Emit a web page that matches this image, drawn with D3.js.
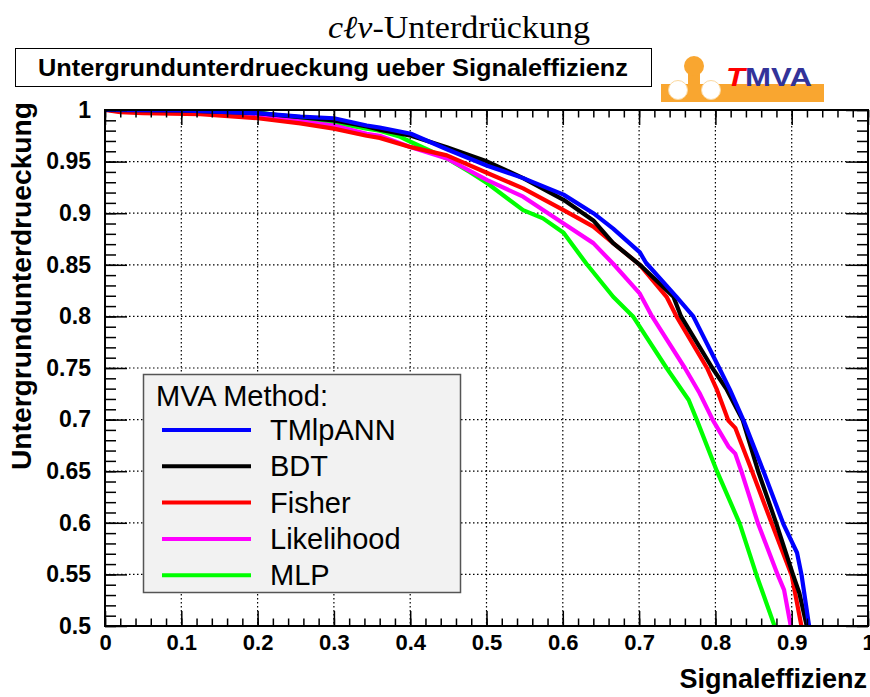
<!DOCTYPE html>
<html>
<head>
<meta charset="utf-8">
<script src="https://cdn.jsdelivr.net/npm/d3@7/dist/d3.min.js"></script>
<style>
  body { margin: 0; background: #fff; }
  svg { display: block; }
  .bold { font-family: "Liberation Sans", Arial, Helvetica, sans-serif; font-weight: bold; }
</style>
</head>
<body>
<svg id="chart" width="870" height="697"></svg>
<script>
// ROC curves: background rejection versus signal efficiency per MVA method
const methods = ["TMlpANN", "BDT", "Fisher", "Likelihood", "MLP"];
const methodColors = ["#0000ff", "#000000", "#ff0000", "#ff00ff", "#00ff00"];

const effTMlpANN = [0.00, 0.10, 0.20, 0.256, 0.30, 0.343, 0.36, 0.401, 0.448, 0.501, 0.548, 0.601, 0.640, 0.666, 0.701, 0.709, 0.749, 0.771, 0.805, 0.819, 0.837, 0.863, 0.889, 0.907, 0.913, 0.923];
const rejTMlpANN = [1.000, 0.9995, 0.997, 0.9935, 0.992, 0.985, 0.983, 0.977, 0.962, 0.946, 0.934, 0.918, 0.900, 0.885, 0.862, 0.852, 0.819, 0.800, 0.750, 0.729, 0.699, 0.650, 0.599, 0.571, 0.549, 0.499];

const effBDT = [0.00, 0.10, 0.20, 0.256, 0.30, 0.343, 0.36, 0.401, 0.448, 0.501, 0.548, 0.601, 0.640, 0.666, 0.701, 0.745, 0.755, 0.796, 0.815, 0.836, 0.856, 0.880, 0.902, 0.910, 0.920];
const rejBDT = [1.000, 0.9995, 0.997, 0.993, 0.990, 0.984, 0.981, 0.975, 0.964, 0.950, 0.934, 0.913, 0.893, 0.871, 0.850, 0.819, 0.800, 0.750, 0.729, 0.699, 0.650, 0.599, 0.549, 0.532, 0.499];

const effFisher = [0.00, 0.02, 0.05, 0.125, 0.20, 0.256, 0.30, 0.343, 0.36, 0.401, 0.448, 0.501, 0.548, 0.601, 0.640, 0.666, 0.701, 0.736, 0.749, 0.789, 0.802, 0.817, 0.826, 0.848, 0.874, 0.900, 0.913];
const rejFisher = [1.000, 0.998, 0.997, 0.996, 0.992, 0.987, 0.982, 0.975, 0.973, 0.964, 0.956, 0.939, 0.924, 0.903, 0.887, 0.871, 0.850, 0.819, 0.800, 0.750, 0.729, 0.699, 0.692, 0.650, 0.599, 0.549, 0.499];

const effLikelihood = [0.00, 0.10, 0.20, 0.256, 0.30, 0.343, 0.36, 0.401, 0.448, 0.501, 0.548, 0.601, 0.640, 0.666, 0.701, 0.717, 0.760, 0.779, 0.797, 0.817, 0.826, 0.834, 0.856, 0.882, 0.890, 0.899];
const rejLikelihood = [1.000, 0.999, 0.9935, 0.989, 0.985, 0.977, 0.975, 0.964, 0.953, 0.932, 0.916, 0.890, 0.871, 0.851, 0.822, 0.800, 0.750, 0.726, 0.699, 0.674, 0.667, 0.650, 0.599, 0.549, 0.535, 0.499];

const effMLP = [0.00, 0.10, 0.20, 0.256, 0.30, 0.343, 0.36, 0.387, 0.401, 0.448, 0.478, 0.501, 0.548, 0.574, 0.601, 0.631, 0.666, 0.692, 0.736, 0.765, 0.776, 0.802, 0.832, 0.854, 0.878];
const rejMLP = [1.000, 1.000, 0.998, 0.991, 0.988, 0.982, 0.980, 0.974, 0.969, 0.953, 0.940, 0.929, 0.903, 0.895, 0.881, 0.851, 0.819, 0.800, 0.750, 0.719, 0.699, 0.650, 0.599, 0.549, 0.499];

const xTickValues = [0, 0.1, 0.2, 0.3, 0.4, 0.5, 0.6, 0.7, 0.8, 0.9, 1];
const xTickLabels = ["0", "0.1", "0.2", "0.3", "0.4", "0.5", "0.6", "0.7", "0.8", "0.9", "1"];
const yTickValues = [0.5, 0.55, 0.6, 0.65, 0.7, 0.75, 0.8, 0.85, 0.9, 0.95, 1];
const yTickLabels = ["0.5", "0.55", "0.6", "0.65", "0.7", "0.75", "0.8", "0.85", "0.9", "0.95", "1"];

const curveData = {
  TMlpANN: d3.zip(effTMlpANN, rejTMlpANN),
  BDT: d3.zip(effBDT, rejBDT),
  Fisher: d3.zip(effFisher, rejFisher),
  Likelihood: d3.zip(effLikelihood, rejLikelihood),
  MLP: d3.zip(effMLP, rejMLP)
};

const svg = d3.select("#chart");
const frame = { left: 105, right: 868, top: 110, bottom: 626 };
const x = d3.scaleLinear().domain([0, 1]).range([frame.left, frame.right]);
const y = d3.scaleLinear().domain([0.5, 1]).range([frame.bottom, frame.top]);

// header: formula title, boxed plot title, logo
const head = svg.append("text")
  .attr("x", 459).attr("y", 38)
  .attr("text-anchor", "middle")
  .style("font-family", "'Liberation Serif', 'DejaVu Serif', serif")
  .style("font-size", "32px")
  .attr("textLength", 262).attr("lengthAdjust", "spacingAndGlyphs");
head.append("tspan").style("font-style", "italic").text("cℓν");
head.append("tspan").text("-Unterdrückung");

svg.append("rect")
  .attr("x", 15.5).attr("y", 48.5).attr("width", 636).attr("height", 38)
  .attr("fill", "#fff").attr("stroke", "#000").attr("stroke-width", 1);
svg.append("text").attr("class", "bold")
  .attr("x", 333).attr("y", 76)
  .attr("text-anchor", "middle")
  .style("font-size", "24px")
  .attr("textLength", 590).attr("lengthAdjust", "spacingAndGlyphs")
  .text("Untergrundunterdrueckung ueber Signaleffizienz");

const logo = svg.append("g");
const orange = "#f9a630";
logo.append("rect").attr("x", 661).attr("y", 84).attr("width", 163).attr("height", 18).attr("fill", orange);
logo.append("rect").attr("x", 688).attr("y", 72).attr("width", 12).attr("height", 16).attr("fill", orange);
logo.append("circle").attr("cx", 694).attr("cy", 66).attr("r", 10).attr("fill", orange);
logo.append("circle").attr("cx", 678).attr("cy", 90).attr("r", 9.5).attr("fill", "#fff").attr("stroke", "#fbd9a0").attr("stroke-width", 1);
logo.append("circle").attr("cx", 711).attr("cy", 90).attr("r", 9.5).attr("fill", "#fff").attr("stroke", "#fbd9a0").attr("stroke-width", 1);
const logoText = logo.append("text").attr("class", "bold")
  .attr("x", 726).attr("y", 86)
  .style("font-size", "25px")
  .attr("textLength", 86).attr("lengthAdjust", "spacingAndGlyphs");
logoText.append("tspan").attr("fill", "#ff0000").style("font-style", "italic").text("T");
logoText.append("tspan").attr("fill", "#333399").text("MVA");

// dotted grid at the major ticks
const grid = svg.append("g")
  .attr("stroke", "#000").attr("stroke-width", 1.2).attr("stroke-dasharray", "1.5 2.5");
grid.selectAll("line.gx").data(xTickValues.slice(1, -1)).join("line")
  .attr("x1", d => x(d)).attr("x2", d => x(d))
  .attr("y1", frame.top).attr("y2", frame.bottom);
grid.selectAll("line.gy").data(yTickValues.slice(1, -1)).join("line")
  .attr("y1", d => y(d)).attr("y2", d => y(d))
  .attr("x1", frame.left).attr("x2", frame.right);

// curves, clipped to the frame
svg.append("clipPath").attr("id", "plotClip").append("rect")
  .attr("x", frame.left).attr("y", frame.top)
  .attr("width", frame.right - frame.left).attr("height", frame.bottom - frame.top);
const line = d3.line().x(d => x(d[0])).y(d => y(d[1]));
const drawOrder = methods.slice().reverse();
svg.append("g").attr("clip-path", "url(#plotClip)")
  .selectAll("path").data(drawOrder).join("path")
  .attr("d", m => line(curveData[m]))
  .attr("fill", "none")
  .attr("stroke", m => methodColors[methods.indexOf(m)])
  .attr("stroke-width", 4.2)
  .attr("stroke-linejoin", "round");

// axes with inward ticks on all four sides
const xMinor = d3.range(0, 1.0001, 0.02);
const yMinor = d3.range(0.5, 1.0001, 0.01);
const noLabel = () => "";

function styleAxis(g) {
  g.select(".domain").remove();
  g.selectAll(".tick line").attr("stroke", "#000").attr("stroke-width", 1.5);
}

svg.append("g").attr("transform", `translate(0,${frame.bottom})`)
  .call(d3.axisBottom(x).tickValues(xMinor).tickSize(-7.5).tickFormat(noLabel)).call(styleAxis);
svg.append("g").attr("transform", `translate(0,${frame.bottom})`)
  .call(d3.axisBottom(x).tickValues(xTickValues).tickSize(-15).tickPadding(20)
    .tickFormat((d, i) => xTickLabels[i]))
  .call(styleAxis)
  .call(g => g.selectAll("text").attr("class", "bold").attr("fill", "#000")
    .style("font-size", "22px").attr("dy", "0.2em"));
svg.append("g").attr("transform", `translate(0,${frame.top})`)
  .call(d3.axisTop(x).tickValues(xMinor).tickSize(-7.5).tickFormat(noLabel)).call(styleAxis);
svg.append("g").attr("transform", `translate(0,${frame.top})`)
  .call(d3.axisTop(x).tickValues(xTickValues).tickSize(-15).tickFormat(noLabel)).call(styleAxis);

svg.append("g").attr("transform", `translate(${frame.left},0)`)
  .call(d3.axisLeft(y).tickValues(yMinor).tickSize(-11).tickFormat(noLabel)).call(styleAxis);
svg.append("g").attr("transform", `translate(${frame.left},0)`)
  .call(d3.axisLeft(y).tickValues(yTickValues).tickSize(-22).tickPadding(14)
    .tickFormat((d, i) => yTickLabels[i]))
  .call(styleAxis)
  .call(g => g.selectAll("text").attr("class", "bold").attr("fill", "#000")
    .style("font-size", "23px"));
svg.append("g").attr("transform", `translate(${frame.right},0)`)
  .call(d3.axisRight(y).tickValues(yMinor).tickSize(-11).tickFormat(noLabel)).call(styleAxis);
svg.append("g").attr("transform", `translate(${frame.right},0)`)
  .call(d3.axisRight(y).tickValues(yTickValues).tickSize(-22).tickFormat(noLabel)).call(styleAxis);

svg.append("rect")
  .attr("x", frame.left).attr("y", frame.top)
  .attr("width", frame.right - frame.left).attr("height", frame.bottom - frame.top)
  .attr("fill", "none").attr("stroke", "#000").attr("stroke-width", 2);

// axis titles
svg.append("text").attr("class", "bold")
  .attr("x", 867).attr("y", 688).attr("text-anchor", "end")
  .style("font-size", "27px")
  .text("Signaleffizienz");
svg.append("text").attr("class", "bold")
  .attr("transform", "translate(31,102) rotate(-90)")
  .attr("text-anchor", "end")
  .style("font-size", "27px")
  .attr("textLength", 368).attr("lengthAdjust", "spacingAndGlyphs")
  .text("Untergrundunterdrueckung");

// legend
const legend = svg.append("g");
legend.append("rect")
  .attr("x", 143.5).attr("y", 374.5).attr("width", 317).attr("height", 218)
  .attr("fill", "#f2f2f2").attr("stroke", "#555").attr("stroke-width", 1.5);
legend.append("text")
  .attr("x", 156).attr("y", 406)
  .style("font-family", "'Liberation Sans', Arial, sans-serif")
  .style("font-size", "29px")
  .text("MVA Method:");
const rows = legend.selectAll("g.row").data(methods).join("g")
  .attr("transform", (d, i) => `translate(0,${430 + i * 36.3})`);
rows.append("line")
  .attr("x1", 162).attr("x2", 251).attr("y1", 0).attr("y2", 0)
  .attr("stroke", (d, i) => methodColors[i]).attr("stroke-width", 4);
rows.append("text")
  .attr("x", 270).attr("y", 10)
  .style("font-family", "'Liberation Sans', Arial, sans-serif")
  .style("font-size", "29px")
  .text(d => d);
</script>
</body>
</html>
